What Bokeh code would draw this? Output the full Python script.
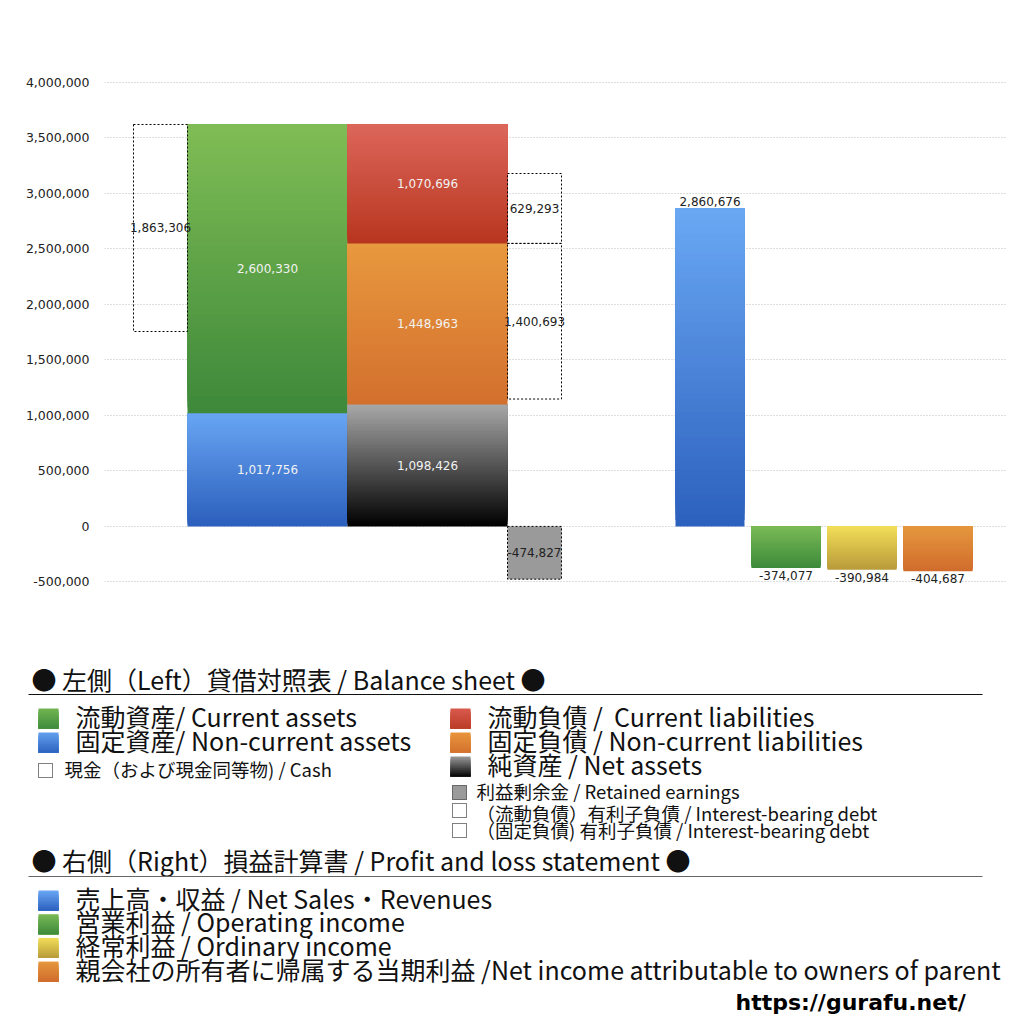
import numpy as np
from bokeh.plotting import figure
from bokeh.models import Range1d, FixedTicker, NumeralTickFormatter
from bokeh.core.properties import value
from bokeh.embed import file_html
from bokeh.resources import INLINE

# ---------------- data ----------------
current_assets = 2600330
non_current_assets = 1017756
cash = 1863306
current_liabilities = 1070696
non_current_liabilities = 1448963
net_assets = 1098426
retained_earnings = -474827
ib_debt_current = 629293
ib_debt_non_current = 1400693

pl_names = ["売上高・収益", "営業利益", "経常利益", "親会社の所有者に帰属する当期利益"]
pl_values = [2860676, -374077, -390984, -404687]

y_ticks = [-500000, 0, 500000, 1000000, 1500000, 2000000, 2500000, 3000000, 3500000, 4000000]

# ---------------- layout (slot centres / widths in frame pixels) ----------------
X_CASH, W_NARROW = 56, 54
X_ASSETS, W_WIDE = 163, 160
X_LIAB = 323
X_DEBT = 430
X_PL = [605.5, 681.5, 757.5, 833.5]
W_PL = 69

FONT_NUM = "DejaVu Sans"
FONT_JP = "Noto Sans CJK JP"

W, H = 1016, 1020
F_LEFT, F_RIGHT, F_TOP, F_BOTTOM = 104, 1006, 76, 587


def _rgb(h):
    return np.array([int(h[i:i + 2], 16) for i in (1, 3, 5)], dtype=float)


def _mix(ct, cb, fracs):
    a, b = _rgb(ct), _rgb(cb)
    return ["#%02x%02x%02x" % tuple(int(round(v)) for v in (a + (b - a) * f)) for f in fracs]


def gradient_bar(p, x, w, y_a, y_b, c_top, c_bot, n=50):
    # stacked, overlapping slices: slice i spans from its own edge to the far end
    lo, hi = min(y_a, y_b), max(y_a, y_b)
    edges = np.linspace(lo, hi, n + 1)[:-1]
    mids = edges + (hi - lo) / n / 2
    cols = _mix(c_top, c_bot, (hi - mids) / (hi - lo))
    p.quad(left=x - w / 2, right=x + w / 2, bottom=edges, top=[hi] * n,
           fill_color=cols, line_color=None)


# ---------------- main chart ----------------
p = figure(width=W, height=H, output_backend="svg", toolbar_location=None,
           title=None, x_range=Range1d(0, F_RIGHT - F_LEFT), y_range=Range1d(-550000, 4050000),
           min_border_left=F_LEFT, min_border_right=W - F_RIGHT,
           min_border_top=F_TOP, min_border_bottom=H - F_BOTTOM)
p.outline_line_color = None
p.xaxis.visible = False
p.xgrid.visible = False
p.ygrid.grid_line_color = "#bdbdbd"
p.ygrid.grid_line_dash = "1 2"
p.ygrid.ticker = FixedTicker(ticks=y_ticks)
yax = p.yaxis[0]
yax.ticker = FixedTicker(ticks=y_ticks)
yax.formatter = NumeralTickFormatter(format="0,0")
yax.axis_line_color = None
yax.major_tick_line_color = None
yax.minor_tick_line_color = None
yax.major_label_standoff = 9
yax.major_label_text_font = FONT_NUM
yax.major_label_text_font_size = "12.5px"
yax.major_label_text_color = "#222222"

# pixel ranges for the legend block below the chart
p.extra_x_ranges = {"px": Range1d(F_LEFT, F_RIGHT)}
p.extra_y_ranges = {"px": Range1d(F_BOTTOM, F_TOP)}

total_assets = current_assets + non_current_assets
lb_net = net_assets
lb_ncl = net_assets + non_current_liabilities
lb_cl = lb_ncl + current_liabilities

# assets
gradient_bar(p, X_ASSETS, W_WIDE, 0, non_current_assets, "#68a5f3", "#2c5fbc")
gradient_bar(p, X_ASSETS, W_WIDE, non_current_assets, total_assets, "#80bd55", "#3d883a")
# liabilities + net assets
gradient_bar(p, X_LIAB, W_WIDE, 0, lb_net, "#a8a8a8", "#000000")
gradient_bar(p, X_LIAB, W_WIDE, lb_net, lb_ncl, "#e8983e", "#d3702e")
gradient_bar(p, X_LIAB, W_WIDE, lb_ncl, lb_cl, "#dc665b", "#b8361f")

# dotted boxes: cash, interest-bearing debt
dash = "2 2"
p.quad(left=X_CASH - W_NARROW / 2, right=X_CASH + W_NARROW / 2,
       bottom=total_assets - cash, top=total_assets,
       fill_color=None, line_color="black", line_dash=dash, line_width=1)
p.quad(left=X_DEBT - W_NARROW / 2, right=X_DEBT + W_NARROW / 2,
       bottom=lb_ncl, top=lb_ncl + ib_debt_current,
       fill_color=None, line_color="black", line_dash=dash, line_width=1)
p.quad(left=X_DEBT - W_NARROW / 2, right=X_DEBT + W_NARROW / 2,
       bottom=lb_ncl - ib_debt_non_current, top=lb_ncl,
       fill_color=None, line_color="black", line_dash=dash, line_width=1)
# retained earnings
p.quad(left=X_DEBT - W_NARROW / 2, right=X_DEBT + W_NARROW / 2,
       bottom=retained_earnings, top=0,
       fill_color="#9a9a9a", line_color="black", line_dash=dash, line_width=1)

# P&L bars
pl_colors = [("#6aa8f4", "#2c60bd"), ("#7aba56", "#3d8a3b"),
             ("#f2de58", "#b89a3a"), ("#e5973e", "#d06c2c")]
for xc, v, (ct, cb) in zip(X_PL, pl_values, pl_colors):
    gradient_bar(p, xc, W_PL, 0, v, ct, cb)

# labels inside bars (light)
p.text(x=[X_ASSETS, X_ASSETS, X_LIAB, X_LIAB, X_LIAB],
       y=[non_current_assets + current_assets / 2, non_current_assets / 2,
          lb_ncl + current_liabilities / 2, lb_net + non_current_liabilities / 2, net_assets / 2],
       text=[f"{current_assets:,}", f"{non_current_assets:,}", f"{current_liabilities:,}",
             f"{non_current_liabilities:,}", f"{net_assets:,}"],
       text_align="center", text_baseline="middle", text_color="#f2f2f2",
       text_font=value(FONT_NUM), text_font_size=value("12px"))
# dark labels
p.text(x=[X_CASH, X_DEBT, X_DEBT, X_DEBT],
       y=[total_assets - cash / 2, lb_ncl + ib_debt_current / 2,
          lb_ncl - ib_debt_non_current / 2, retained_earnings / 2],
       text=[f"{cash:,}", f"{ib_debt_current:,}", f"{ib_debt_non_current:,}", f"{retained_earnings:,}"],
       text_align="center", text_baseline="middle", text_color="#222222",
       text_font=value(FONT_NUM), text_font_size=value("12px"))
p.text(x=X_PL, y=pl_values, text=[f"{v:,}" for v in pl_values],
       text_align="center", text_baseline=["bottom" if v > 0 else "top" for v in pl_values],
       y_offset=[-3 if v > 0 else 3 for v in pl_values],
       text_color="#222222", text_font=value(FONT_NUM), text_font_size=value("12px"))

# ---------------- legend block (pixel coordinates, drawn unclipped) ----------------
LG = dict(x_range_name="px", y_range_name="px", level="overlay")
TY = -3  # vertical nudge for CJK text metrics


def ltxt(x, y, s, size, bold=False, color="#111111", font=FONT_JP):
    p.text(x=[x], y=[y + TY], text=[s], text_baseline="middle", text_align="left",
           text_color=color, text_font=value(font), text_font_size=value(size),
           text_font_style="bold" if bold else "normal", **LG)


def lsq(x0, y0, size, ct, cb, n=12):
    edges = np.linspace(y0, y0 + size, n + 1)[:-1]
    cols = _mix(ct, cb, np.linspace(0.04, 0.96, n))
    p.quad(left=x0, right=x0 + size, top=edges, bottom=[y0 + size] * n,
           fill_color=cols, line_color=None, **LG)


def ldot(x0, y0, size, fill=None):
    p.quad(left=x0, right=x0 + size, top=y0, bottom=y0 + size, fill_color=fill,
           line_color="black", line_dash="1 1", line_width=1, **LG)


BIG, SMALL, HEAD = "25px", "18.5px", "25px"
ltxt(31, 681, "● 左側（Left）貸借対照表 / Balance sheet ●", HEAD)
p.segment(x0=[28], y0=[694], x1=[982], y1=[694], line_color="#111111", line_width=1, **LG)

lsq(38, 708, 20, "#72b552", "#3f8c3c")
ltxt(75, 718, "流動資産/ Current assets", BIG)
lsq(38, 732, 20, "#62a0ee", "#2e64c0")
ltxt(75, 742, "固定資産/ Non-current assets", BIG)
ldot(38, 763, 14)
ltxt(64, 771, "現金（および現金同等物) / Cash", SMALL)

lsq(450, 708, 20, "#d85a4e", "#bc3c27")
ltxt(487, 718, "流動負債 / \u00a0Current liabilities", BIG)
lsq(450, 732, 20, "#e8953c", "#d4722e")
ltxt(487, 742, "固定負債 / Non-current liabilities", BIG)
lsq(450, 756, 20, "#9a9a9a", "#050505")
ltxt(487, 766, "純資産 / Net assets", BIG)
ldot(452, 785, 14, fill="#9a9a9a")
ltxt(476, 793, "利益剰余金 / Retained earnings", SMALL)
ldot(452, 803, 14)
ltxt(476, 815, "（流動負債）有利子負債 / Interest-bearing debt", SMALL)
ldot(452, 823, 14)
ltxt(476, 832, "（固定負債) 有利子負債 / Interest-bearing debt", SMALL)

ltxt(31, 862, "● 右側（Right）損益計算書 / Profit and loss statement ●", HEAD)
p.segment(x0=[28], y0=[876], x1=[982], y1=[876], line_color="#666666", line_width=1, **LG)

pl_legend = [f"{pl_names[0]} / Net Sales・Revenues",
             f"{pl_names[1]} / Operating income",
             f"{pl_names[2]} / Ordinary income",
             f"{pl_names[3]} /Net income attributable to owners of parent"]
for i, (s, (ct, cb)) in enumerate(zip(pl_legend, pl_colors)):
    y0 = 890 + i * 23.7
    lsq(38, y0, 20, ct, cb)
    ltxt(75, y0 + 10, s, BIG)

ltxt(735, 1005, "https://gurafu.net/", "22px", bold=True, color="#000000", font="DejaVu Sans")

open("out.html", "w").write(file_html(p, INLINE))
